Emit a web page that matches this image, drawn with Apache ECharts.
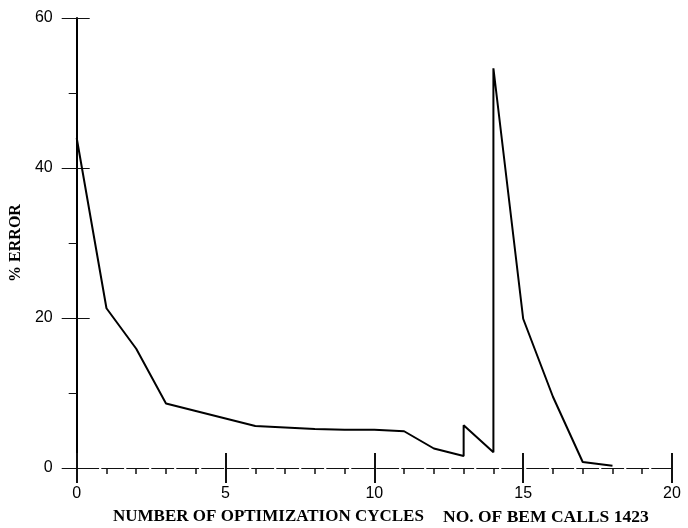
<!DOCTYPE html>
<html>
<head>
<meta charset="utf-8">
<script src="https://cdn.jsdelivr.net/npm/echarts@6/dist/echarts.min.js"></script>
<style>
html,body{margin:0;padding:0;background:#fff;}
#chart{width:688px;height:528px;}
</style>
</head>
<body>
<div id="chart"></div>
<script>
// Data
const cycles = [0, 1, 2, 3, 4, 5, 6, 7, 8, 9, 10, 11, 12, 13, 13, 14, 14, 15, 16, 17, 18];
const errorPct = [44, 21.3, 15.9, 8.6, 7.6, 6.6, 5.6, 5.4, 5.2, 5.1, 5.1, 4.9, 2.6, 1.6, 5.7, 2.1, 53.3, 19.9, 9.5, 0.8, 0.3];
const xTitle1 = 'NUMBER OF OPTIMIZATION CYCLES';
const xTitle2 = 'NO. OF BEM CALLS 1423';
const yTitle = '% ERROR';

const points = cycles.map((c, i) => [c, errorPct[i]]);

const chart = echarts.init(document.getElementById('chart'), null, {renderer: 'canvas'});
const sans = 'Liberation Sans';
const serif = 'Liberation Serif';

chart.setOption({
  animation: false,
  backgroundColor: '#fff',
  grid: {left: 76, right: 16, top: 18, bottom: 60},
  xAxis: [
    {
      type: 'value', min: 0, max: 20, interval: 5, position: 'bottom',
      axisLine: {show: true, onZero: false, lineStyle: {color: '#111', width: 1, type: [22, 3]}},
      axisTick: {show: true, length: 15, inside: false, lineStyle: {color: '#111', width: 2}},
      minorTick: {show: true, splitNumber: 5, length: 6, lineStyle: {color: '#111', width: 1.5}},
      axisLabel: {color: '#000', fontFamily: sans, fontSize: 16, margin: 18},
      splitLine: {show: false}
    },
    {
      type: 'value', min: 0, max: 20, interval: 5, position: 'bottom',
      axisLine: {show: false},
      axisTick: {show: true, length: 15, inside: true, lineStyle: {color: '#111', width: 2}},
      axisLabel: {show: false},
      splitLine: {show: false}
    }
  ],
  yAxis: [
    {
      type: 'value', min: 0, max: 60, interval: 20, position: 'left',
      name: yTitle, nameLocation: 'middle', nameGap: 44, nameRotate: 90,
      nameTextStyle: {color: '#000', fontFamily: serif, fontWeight: 'bold', fontSize: 16},
      axisLine: {show: true, onZero: false, lineStyle: {color: '#000', width: 2}},
      axisTick: {show: true, length: 15, inside: false, lineStyle: {color: '#111', width: 1}},
      minorTick: {show: true, splitNumber: 2, length: 8, lineStyle: {color: '#111', width: 1}},
      axisLabel: {color: '#000', fontFamily: sans, fontSize: 16, margin: 24},
      splitLine: {show: false}
    },
    {
      type: 'value', min: 0, max: 60, interval: 20, position: 'left',
      axisLine: {show: false},
      axisTick: {show: true, length: 13, inside: true, lineStyle: {color: '#111', width: 1}},
      axisLabel: {show: false},
      splitLine: {show: false}
    }
  ],
  graphic: [
    {type: 'text', left: 113, top: 508,
     style: {text: xTitle1, font: 'bold 17px "Liberation Serif"', fill: '#000'}},
    {type: 'text', left: 443, top: 508,
     style: {text: xTitle2, font: 'bold 17.5px "Liberation Serif"', fill: '#000'}}
  ],
  series: [{
    type: 'line', xAxisIndex: 0, yAxisIndex: 0,
    data: points, showSymbol: false, symbol: 'none',
    lineStyle: {color: '#000', width: 2}
  }]
});
</script>
</body>
</html>
